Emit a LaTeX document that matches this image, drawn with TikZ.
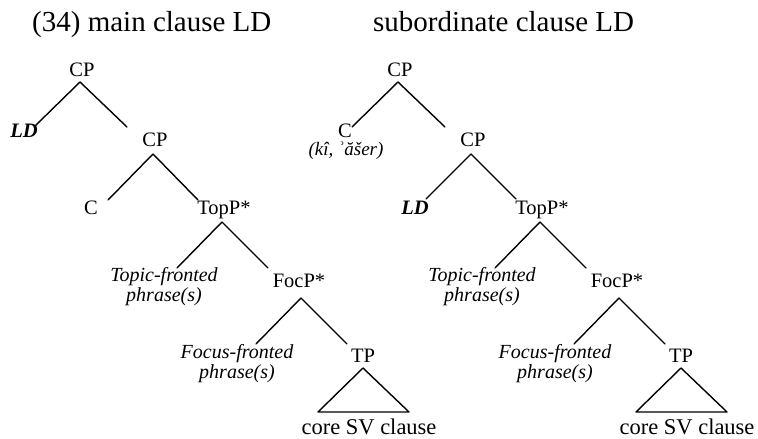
\documentclass[tikz,border=0pt]{standalone}
\usepackage{fontspec}
\setmainfont{Liberation Serif}
\begin{document}
\begin{tikzpicture}[x=1pt,y=-1pt,
  lab/.style={inner sep=0pt,text height=13.5pt,text depth=0pt,font=\fontsize{20.5}{22}\selectfont},
  phr/.style={inner sep=0pt,align=center,anchor=north,font=\fontsize{20}{20.5}\selectfont\itshape},
  core/.style={inner sep=0pt,font=\fontsize{22.5}{24}\selectfont},
  ttl/.style={inner sep=0pt,anchor=base west,font=\fontsize{29}{31}\selectfont},
  br/.style={line width=1.4pt,line cap=round,line join=round}]
\useasboundingbox[fill=white] (0,0) rectangle (758,439);

% titles
\node[ttl] (t1) at (32,31) {(34) main clause LD};
\node[ttl] (t2) at (373,31) {subordinate clause LD};

% ---------- left tree ----------
\node[lab] (cp1) at (82,70) {CP};
\node[lab] (ld1) at (24,131) {\textbf{\textit{LD}}};
\node[lab] (cp2) at (155,140) {CP};
\node[lab] (c1) at (91,208) {C};
\node[lab] (topp1) at (224,208) {TopP*};
\node[phr] (topic1) at (164,267) {Topic-fronted\\phrase(s)};
\node[lab] (focp1) at (299,281) {FocP*};
\node[phr] (focus1) at (237,344) {Focus-fronted\\phrase(s)};
\node[lab] (tp1) at (363,356) {TP};
\node[core] (core1) at (369,427) {core SV clause};

\draw[br] ([xshift=-2pt,yshift=-12pt]cp1.center) -- ([xshift=11pt,yshift=5pt]ld1.center);
\draw[br] ([xshift=-2pt,yshift=-12pt]cp1.center) -- ([xshift=-28pt,yshift=13pt]cp2.center);
\draw[br] ([xshift=-2pt,yshift=-14pt]cp2.center) -- ([xshift=17pt,yshift=8pt]c1.center);
\draw[br] ([xshift=-2pt,yshift=-14pt]cp2.center) -- ([xshift=-26pt,yshift=8pt]topp1.center);
\draw[br] ([xshift=-2pt,yshift=-14pt]topp1.center) -- ([xshift=13pt,yshift=-1pt]topic1.north);
\draw[br] ([xshift=-2pt,yshift=-14pt]topp1.center) -- ([xshift=-31pt,yshift=13pt]focp1.center);
\draw[br] ([xshift=2pt,yshift=-17pt]focp1.center) -- ([xshift=19pt]focus1.north);
\draw[br] ([xshift=2pt,yshift=-17pt]focp1.center) -- ([xshift=-16pt,yshift=12pt]tp1.center);
\draw[br] ([yshift=-12pt]tp1.center) -- ([xshift=-51pt,yshift=15pt]core1.center)
  -- ([xshift=40pt,yshift=15pt]core1.center) -- cycle;

% ---------- right tree ----------
\node[lab] (cp3) at (400,70) {CP};
\node[lab] (c2) at (345,131) {C};
\node[inner sep=0pt,font=\fontsize{19}{20}\selectfont\itshape] (c2g) at (346,151) {(kî, ʾăšer)};
\node[lab] (cp4) at (473,140) {CP};
\node[lab] (ld2) at (415,208) {\textbf{\textit{LD}}};
\node[lab] (topp2) at (542,208) {TopP*};
\node[phr] (topic2) at (482,267) {Topic-fronted\\phrase(s)};
\node[lab] (focp2) at (617,281) {FocP*};
\node[phr] (focus2) at (555,344) {Focus-fronted\\phrase(s)};
\node[lab] (tp2) at (681,356) {TP};
\node[core] (core2) at (687,427) {core SV clause};

\draw[br] ([xshift=-2pt,yshift=-12pt]cp3.center) -- ([xshift=7pt,yshift=4pt]c2.center);
\draw[br] ([xshift=-2pt,yshift=-12pt]cp3.center) -- ([xshift=-28pt,yshift=13pt]cp4.center);
\draw[br] ([xshift=-2pt,yshift=-14pt]cp4.center) -- ([xshift=11pt,yshift=9pt]ld2.center);
\draw[br] ([xshift=-2pt,yshift=-14pt]cp4.center) -- ([xshift=-26pt,yshift=9pt]topp2.center);
\draw[br] ([xshift=-2pt,yshift=-14pt]topp2.center) -- ([xshift=13pt,yshift=-1pt]topic2.north);
\draw[br] ([xshift=-2pt,yshift=-14pt]topp2.center) -- ([xshift=-31pt,yshift=13pt]focp2.center);
\draw[br] ([xshift=2pt,yshift=-17pt]focp2.center) -- ([xshift=19pt]focus2.north);
\draw[br] ([xshift=2pt,yshift=-17pt]focp2.center) -- ([xshift=-16pt,yshift=12pt]tp2.center);
\draw[br] ([yshift=-12pt]tp2.center) -- ([xshift=-51pt,yshift=15pt]core2.center)
  -- ([xshift=40pt,yshift=15pt]core2.center) -- cycle;
\end{tikzpicture}
\end{document}
